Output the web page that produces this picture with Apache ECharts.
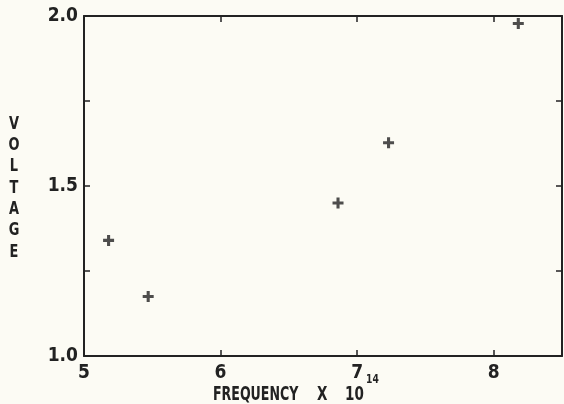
<!DOCTYPE html>
<html><head><meta charset="utf-8">
<script src="https://cdn.jsdelivr.net/npm/echarts@6/dist/echarts.min.js"></script>
<style>html,body{margin:0;padding:0;background:#fcfbf4;}#c{width:564px;height:404px;}</style>
</head><body><div id="c"></div>
<script>
var frequency = [5.18, 5.47, 6.86, 7.23, 8.18];
var voltage = [1.34, 1.175, 1.45, 1.627, 1.978];
var xTicks = [5, 6, 7, 8];
var yTickLabels = ['1.0', '1.5', '2.0'];
var xTitleParts = ['FREQUENCY', 'X', '10', '14'];
var yTitle = 'VOLTAGE';

var FONT = "'DejaVu Sans Condensed', 'Liberation Sans Narrow', sans-serif";
var INK = '#222222';
var pts = frequency.map(function (f, i) { return [f, voltage[i]]; });

function t(text, x, y, size, sx, extra) {
  var st = { text: text, fill: INK, font: 'bold ' + size + 'px ' + FONT, textAlign: 'left', textVerticalAlign: 'middle' };
  if (extra) for (var k in extra) st[k] = extra[k];
  return { type: 'text', x: x, y: y, scaleX: sx, scaleY: 1, originX: 0, originY: 0, style: st, silent: true };
}

var chart = echarts.init(document.getElementById('c'));
var axisBase = {
  axisLine: { show: true, onZero: false, lineStyle: { color: INK, width: 2 } },
  axisTick: { show: true, inside: true, length: 6, lineStyle: { color: INK, width: 1.5 } },
  splitLine: { show: false }
};
chart.setOption({
  backgroundColor: '#fcfbf4',
  animation: false,
  grid: { left: 84, right: 2, top: 16, bottom: 48 },
  xAxis: [
    Object.assign({}, axisBase, {
      type: 'value', min: 5, max: 8.5, interval: 1, position: 'bottom',
      axisLabel: {
        color: INK, fontFamily: FONT, fontWeight: 'bold', fontSize: 19, margin: 8,
        showMaxLabel: false,
        formatter: function (v) { return xTicks.indexOf(v) >= 0 ? String(v) : ''; }
      }
    }),
    Object.assign({}, axisBase, {
      type: 'value', min: 5, max: 8.5, interval: 1, position: 'top',
      axisLabel: { show: false }
    })
  ],
  yAxis: [
    Object.assign({}, axisBase, {
      type: 'value', min: 1, max: 2, interval: 0.25, position: 'left',
      axisLabel: {
        color: INK, fontFamily: FONT, fontWeight: 'bold', fontSize: 19, margin: 6,
        padding: [6, 0, 0, 0],
        formatter: function (v) { var s = v.toFixed(1); return yTickLabels.indexOf(s) >= 0 && Math.abs(v * 2 - Math.round(v * 2)) < 1e-6 ? s : ''; }
      }
    }),
    Object.assign({}, axisBase, {
      type: 'value', min: 1, max: 2, interval: 0.25, position: 'right',
      axisLabel: { show: false }
    })
  ],
  graphic: [
    t(xTitleParts[0], 213, 395, 20, 0.70),
    t(xTitleParts[1], 317, 395, 20, 0.75),
    t(xTitleParts[2], 345, 395, 20, 0.75),
    t(xTitleParts[3], 366, 380, 12, 0.85),
    t(yTitle.split('').join('\n'), 14, 188, 18, 0.8, { textAlign: 'center', lineHeight: 21.3 })
  ],
  series: [{
    type: 'scatter',
    data: pts,
    symbol: 'path://M3.6,0H6.4V3.6H10V6.4H6.4V10H3.6V6.4H0V3.6H3.6Z',
    symbolSize: 11,
    itemStyle: { color: INK }
  }]
});
</script></body></html>
